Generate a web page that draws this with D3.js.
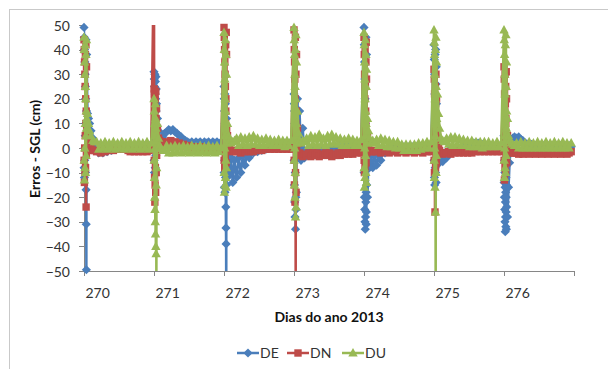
<!DOCTYPE html>
<html>
<head>
<meta charset="utf-8">
<script src="https://cdn.jsdelivr.net/npm/d3@7"></script>
<style>
  html, body { margin: 0; padding: 0; background: #fff; }
  svg { display: block; font-family: Lato, "Open Sans", sans-serif; }
</style>
</head>
<body>
<svg id="chart" width="608" height="369"></svg>
<script>
// Day of year at which each block of samples starts
const dayStarts = [270, 271, 272, 273, 274, 275, 276];
// Sample times inside a day (fraction of day): start-up burst, settling, steady state
const dayOffsets = [
  0, 0.002, 0.004, 0.006, 0.008, 0.010, 0.012, 0.014, 0.016, 0.018,
  0.020, 0.022, 0.024, 0.026, 0.028, 0.030, 0.032, 0.034, 0.036, 0.038,
  0.05, 0.065, 0.08, 0.10, 0.125, 0.15,
  0.18, 0.21, 0.24, 0.27, 0.30, 0.33, 0.36, 0.39, 0.42, 0.45,
  0.48, 0.51, 0.54, 0.57, 0.60, 0.63, 0.66, 0.69, 0.72, 0.75,
  0.78, 0.81, 0.84, 0.87, 0.90, 0.93, 0.96
];

// Errors (cm), one row per day
const DE = [
  [49, -8, 45, -12, 40, -5, 35, 0, 30, 5, 25, -10, 20, 10, 44, -17, -31, -49.5, 15, 38,
   14, 12, 10, 7, 4, 2,
   -1, -2, -1.5, -2, -1, -1.5, -0.5, -1, 0, -0.5, 0.5, 0, 0.5, 0, 1, 0.5, 1, 0.5, 1, 0.5, 0, 0.5, 0, 1, 0.5, 1, 0.5],
  [31, -5, 28, -10, 25, 0, 30, 5, 22, -8, 27, 10, 20, -3, 29, 15, 24, 2, 18, 8,
   12, 7, 4, 3, 4.5, 6,
   6.5, 7.5, 7, 7.5, 6.5, 6, 5, 4.5, 3.5, 3, 2.5, 2, 2.5, 1.5, 2.5, 2, 2.5, 1.5, 2.5, 2, 2.5, 1.5, 2.5, 2, 2.5, 1.5, 2.5],
  [25, -10, 20, -16, 15, -5, 22, -18, 10, 0, 18, -12, 5, -24, -32.5, -39, -70, -8, 12, -15,
   -6, -3, -11, -4, -14, -5,
   -12, -4, -10, -3, -7, -2, -4, -1.5, -2, -1, -1.5, -0.5, -1, 0, -0.5, 0.5, 0, 1, 0.5, 1, 0.5, 1.5, 1, 2, 1, 2, 1.5],
  [22, -5, 18, -15, 15, -22, 10, -28, 5, -10, 20, -33, 0, -20, 12, -25, 8, -18, 16, 2,
   20, -3, 15, -5, 8, -4,
   -3, -1, -2, -0.5, -1.5, 0, -1, 0, -0.5, 0.5, 0, 0.5, 0, 0.5, 0, 1, 0, 0.5, 0, 1, 0.5, 0, 0.5, 0, 1, 0.5, 0],
  [49, -10, 42, -20, 35, -25, 28, -30, 20, -33, 10, -28, 0, -22, 45, -18, -31, -26, 38, -15,
   -20, -3, -8, -3, -8, -3,
   -7, -2.5, -5, -1.5, -2, -0.5, -1, 0, -0.5, 0.5, 0, 0.5, 0, 0.5, 0, 0.5, 0, 0.5, 0, 0.5, 0, 0.5, 0, 0.5, 0, 0.5, 0],
  [42, -5, 36, -12, 30, -15, 22, 0, 38, -8, 15, -10, 40, 5, 26, -14, 33, 2, 18, -6,
   -5, -2, -6, -2.5, -5.5, -2,
   -4, -1, -2, 0, -0.5, 0.5, 0, 0.5, 0, 1, 0.5, 1, 1.5, 2, 1.5, 2, 1, 1.5, 0.5, 1, 0, 0.5, 0, 0.5, 0, 0.5, 0],
  [5, -14, 0, -20, -5, -25, -10, -30, -16, -34, -22, -28, -18, -32, -12, -26, -20, -33, -15, -24,
   -28, -16, -6, 2, 4, 4.5,
   4, 4.5, 3.5, 3, 2, 1.5, 1, 1.5, 0.5, 1, 0.5, 1, 0.5, 1, 0.5, 1, 0.5, 1, 0.5, 1, 0.5, 1, 0.5, 1, 0.5, 1, 0.5]
];
const DN = [
  [44, -5, 40, -14, 35, 0, 30, -10, 25, 5, 38, -8, 20, 10, 42, -24, 15, -3, 33, 8,
   6, 3, 1.5, 0, -1, -1,
   -1.5, -1, -2, -1, -1.5, -0.5, -1, -0.5, -1, 0, -0.5, 0, -0.5, 0, -0.5, -1, -1.5, -1, -1.5, -1, -1.5, -1, -1.5, -1, -1.5, -1, -0.5],
  [80, 24, -5, 22, -12, 18, -22, 15, -15, 20, -8, 10, -18, 23, 0, 12, -10, 5, 16, -3,
   8, 4, 3, 2, 2.5, 2,
   2.5, 1.5, 3, 1.5, 2.5, 1, 2, 1, 1.5, 0.5, 1, 0.5, 0.5, 0, 0.5, 0, 0.5, -0.5, 0, -0.5, 0, -0.5, 0, -0.5, 0, -0.5, 0],
  [49, -5, 45, 0, 40, -8, 35, 5, 30, -3, 25, 10, 42, 15, 20, -6, 47, 2, 38, 8,
   5, 2, 0, -1, -1.5, -1,
   -1.5, -1, -2, -1, -1.5, -0.5, -1.5, -1, -1.5, -0.5, -1, -0.5, -1, 0, -0.5, 0, -0.5, 0, -0.5, 0, -0.5, 0, -0.5, 0, -0.5, 0, -0.5],
  [48, -5, 40, -15, 35, 0, 28, -22, 20, 5, 45, -10, -70, 10, 30, -18, 15, -3, 38, 2,
   8, 2, -2, -3, -3.5, -2.5,
   -3, -2, -3.5, -2, -3, -2, -3.5, -2.5, -3, -2, -3, -2, -3.5, -2.5, -3, -2, -3, -2, -2.5, -1.5, -2.5, -1.5, -2.5, -1.5, -2, -1.5, -2],
  [45, -5, 38, -10, 30, 0, 20, -8, 40, 5, 25, -3, 15, 10, 35, -6, 43, 2, 28, -2,
   5, 1, -1, -1.5, -1.5, -1,
   -1.5, -1, -2, -1, -1.5, -1, -2, -1, -1.5, -1, -2, -1, -1.5, -1, -2, -1, -1.5, -1, -2, -1, -1.5, -1, -2, -1, -1.5, -1, -1.5],
  [32, -5, 28, -10, 22, 0, 15, -26, 10, 5, 25, -8, 18, 3, 30, -3, 12, -6, 20, 1,
   6, 1, -1, -2, -2.5, -2,
   -2, -1.5, -2.5, -1.5, -2, -1, -2, -1.5, -2, -1, -2, -1.5, -2, -1, -1.5, -1, -1.5, -1, -1.5, -1, -1.5, -1, -1.5, -1, -1.5, -1, -1.5],
  [33, -5, 28, -13, 22, 0, 15, -8, 30, 5, 18, -10, 25, 10, 12, -3, 31, 2, 20, -6,
   5, 0, -1.5, -2, -2, -2,
   -2, -2.5, -1.5, -2.5, -2, -1.5, -2.5, -2, -1.5, -2.5, -2, -1.5, -2.5, -2, -1.5, -2.5, -2, -1.5, -2.5, -2, -1.5, -2.5, -2, -1.5, -2.5, -2, -1.5]
];
const DU = [
  [45, -5, 40, -13, 35, 0, 30, -8, 42, 10, 25, -10, 20, 5, 38, -3, 15, 8, 44, 12,
   14, 10, 7, 5, 3, 2.5,
   2.5, -0.5, 2, 0, 2.5, -0.5, 2, 0, 2.5, -0.5, 2, 0, 2.5, -0.5, 2, 0, 2.5, -0.5, 2, 0, 2.5, -0.5, 2, 0, 2.5, -0.5, 2],
  [20, -5, 15, -12, 10, -20, 5, -25, 0, -30, 18, -35, 12, -40, 8, -43, -15, -70, 3, -8,
   10, 4, 1, 0, -1, -1,
   1, -2, 0.5, -2, 1, -1.5, 0.5, -2, 1, -1.5, 0.5, -2, 1, -1.5, 0.5, -2, 1, -1.5, 0.5, -2, 1, -1.5, 0.5, -2, 1, -1.5, 0.5],
  [47, -10, 40, -18, 35, 0, 28, -15, 20, 5, 44, -12, 15, -5, 38, -16, 10, -8, 30, 2,
   10, 5, 3, 2, 2.5, 3,
   4, 1, 4.5, 1.5, 4, 1, 4.5, 1.5, 5, 1.5, 4, 1, 3.5, 1, 4, 1.5, 3.5, 1, 3, 1, 3.5, 1, 3, 0.5, 3, 1, 3],
  [49, -5, 44, -15, 38, 0, 30, -20, 25, -10, 40, -28, 20, 5, 46, -24, 15, 10, 35, 2,
   15, 6, 3, 2, 3, 2.5,
   4, 1, 5, 1.5, 4.5, 1, 5.5, 1.5, 4, 1, 5, 1.5, 5.5, 2, 4.5, 1.5, 4, 1, 3.5, 1, 4, 1.5, 3.5, 1, 3, 1, 3.5],
  [47, -8, 42, -16, 35, 0, 28, -12, 20, 5, 44, -3, 15, -10, 38, 10, 25, -14, 32, 2,
   12, 7, 4, 2, 3, 2,
   3.5, 1, 4, 1, 3.5, 0.5, 3, 0.5, 2.5, 0, 2.5, 0, 1.5, -1, 1.5, -1, 1.5, -1, 1.5, -1, 2, -0.5, 2, 0, 2.5, 0, 2.5],
  [48, -5, 43, -12, 38, 0, 30, -16, 20, 5, 40, -26, -70, 10, 45, -10, 25, -3, 35, 12,
   22, 14, 8, 4, 3, 2.5,
   4, 1.5, 4.5, 1, 4.5, 1.5, 4, 1, 3.5, 1, 3, 0.5, 3, 0.5, 2.5, 0.5, 2.5, 0, 2.5, 0.5, 2.5, 0.5, 2, 0.5, 2.5, 0.5, 2],
  [48, -5, 44, -12, 38, 0, 30, -8, 22, 5, 42, -10, 12, 3, 46, -3, 25, 8, 35, 15,
   12, 5, 3, 2, 1.5, 1,
   2, 0, 2.5, 0, 2, 0, 2.5, 0, 2, 0, 2.5, 0, 2, 0, 2.5, 0, 2, 0, 2.5, 0, 2, 0, 2.5, 0, 2, 0, 2]
];

const seriesNames = ["DE", "DN", "DU"];
const xTicks = [270, 271, 272, 273, 274, 275, 276, 277];
const xTickLabels = ["270", "271", "272", "273", "274", "275", "276", ""];
const yTicks = [-50, -40, -30, -20, -10, 0, 10, 20, 30, 40, 50];
const xTitle = "Dias do ano 2013";
const yTitle = "Erros - SGL (cm)";

const colors = { DE: "#4A7EBB", DN: "#BE4B48", DU: "#98B954" };
const markerPaths = {
  DE: "M0,-4.6L4.6,0L0,4.6L-4.6,0Z",
  DN: "M-3.7,-3.7H3.7V3.7H-3.7Z",
  DU: "M0,-5L4.7,3.5L-4.7,3.5Z"
};

const svg = d3.select("#chart");
const plot = { left: 84, right: 574, top: 25, bottom: 271 };

const x = d3.scaleLinear().domain([270, 277]).range([plot.left, plot.right]);
const y = d3.scaleLinear().domain([-50, 50]).range([plot.bottom, plot.top]);

// outer chart frame
svg.append("rect")
  .attr("x", 9.5).attr("y", 9.5)
  .attr("width", 640).attr("height", 400)
  .attr("fill", "none").attr("stroke", "#c9c9c9").attr("stroke-width", 1);

svg.append("clipPath").attr("id", "plotClip")
  .append("rect")
  .attr("x", plot.left).attr("y", plot.top)
  .attr("width", plot.right - plot.left).attr("height", plot.bottom - plot.top);

// axes
const axisColor = "#868686";
const yAxis = svg.append("g")
  .attr("transform", `translate(${plot.left},0)`)
  .call(d3.axisLeft(y).tickValues(yTicks).tickSize(5).tickFormat(d3.format("d")));
yAxis.select(".domain").attr("stroke", axisColor).attr("d", `M0,${plot.top}V${plot.bottom}`);
yAxis.selectAll(".tick line").attr("stroke", axisColor);
yAxis.selectAll(".tick text")
  .attr("x", -14).attr("dy", "0.36em")
  .attr("fill", "#333").style("font-size", "14px").style("font-family", "Lato, sans-serif");

const xAxis = svg.append("g")
  .attr("transform", `translate(0,${plot.bottom})`)
  .call(d3.axisBottom(x).tickValues(xTicks).tickSize(5).tickFormat((d, i) => xTickLabels[i]));
xAxis.select(".domain").attr("stroke", axisColor).attr("d", `M${plot.left},0H${plot.right}`);
xAxis.selectAll(".tick line").attr("stroke", axisColor);
xAxis.selectAll(".tick text")
  .attr("text-anchor", "start").attr("x", 1).attr("y", 17).attr("dy", "0.71em")
  .attr("fill", "#333").style("font-size", "14px").style("font-family", "Lato, sans-serif");
svg.selectAll(".domain, .tick line").attr("shape-rendering", "crispEdges");

// series
const dataFor = rows => rows.flatMap((row, i) =>
  row.map((v, j) => ({ t: dayStarts[i] + dayOffsets[j], v })));
const seriesData = { DE: dataFor(DE), DN: dataFor(DN), DU: dataFor(DU) };

const line = d3.line().x(d => x(d.t)).y(d => y(d.v));

seriesNames.forEach(name => {
  const g = svg.append("g").attr("class", "series-" + name);
  g.append("path")
    .datum(seriesData[name])
    .attr("clip-path", "url(#plotClip)")
    .attr("fill", "none")
    .attr("stroke", colors[name])
    .attr("stroke-width", 2.5)
    .attr("stroke-linejoin", "round")
    .attr("d", line);
  g.selectAll("path.mk")
    .data(seriesData[name].filter(d => d.v >= -50 && d.v <= 50))
    .join("path")
    .attr("class", "mk")
    .attr("transform", d => `translate(${x(d.t)},${y(d.v)})`)
    .attr("d", markerPaths[name])
    .attr("fill", colors[name]);
});

// axis titles
svg.append("text")
  .attr("x", (plot.left + plot.right) / 2).attr("y", 322)
  .attr("text-anchor", "middle")
  .style("font-size", "14px").style("font-weight", "bold")
  .attr("fill", "#111")
  .text(xTitle);

svg.append("text")
  .attr("transform", `translate(40,${(plot.top + plot.bottom) / 2 + 1}) rotate(-90)`)
  .attr("text-anchor", "middle")
  .style("font-size", "14px").style("font-weight", "bold")
  .attr("fill", "#111")
  .text(yTitle);

// legend
const legendX = [237, 287, 342];
const legend = svg.append("g").attr("transform", "translate(0,353)");
seriesNames.forEach((name, i) => {
  const item = legend.append("g").attr("transform", `translate(${legendX[i]},0)`);
  item.append("line").attr("x1", 0).attr("x2", 22).attr("y1", 0).attr("y2", 0)
    .attr("stroke", colors[name]).attr("stroke-width", 2.5);
  item.append("path").attr("transform", "translate(11,0)")
    .attr("d", markerPaths[name]).attr("fill", colors[name]);
  item.append("text").attr("x", 23).attr("y", 0).attr("dy", "0.36em")
    .style("font-size", "14px").attr("fill", "#333")
    .text(name);
});
</script>
</body>
</html>
